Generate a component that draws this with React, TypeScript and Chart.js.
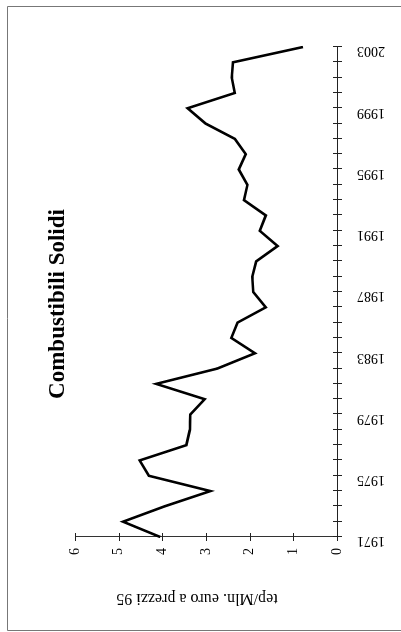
import React, { useEffect, useRef } from 'react';
import { Chart, registerables } from 'chart.js';

Chart.register(...registerables);

const years = [
  '1971', '1972', '1973', '1974', '1975', '1976', '1977', '1978', '1979', '1980', '1981',
  '1982', '1983', '1984', '1985', '1986', '1987', '1988', '1989', '1990', '1991', '1992',
  '1993', '1994', '1995', '1996', '1997', '1998', '1999', '2000', '2001', '2002', '2003',
];
const values = [
  4.05, 4.9, 3.95, 2.9, 4.31, 4.52, 3.45, 3.37, 3.36, 3.03, 4.14,
  2.74, 1.88, 2.42, 2.28, 1.63, 1.92, 1.94, 1.85, 1.36, 1.77, 1.63,
  2.13, 2.05, 2.25, 2.09, 2.34, 3.01, 3.42, 2.34, 2.41, 2.38, 0.78,
];
const valueMin = 0;
const valueMax = 6;
const valueStep = 1;
const yearLabelEvery = 4;
const titleText = 'Combustibili Solidi';
const axisTitle = 'tep/Mln. euro a prezzi 95';

const W = 632;
const H = 401;
const SERIF = '"Liberation Serif", "Times New Roman", serif';

export default function App() {
  const ref = useRef<HTMLCanvasElement>(null);

  useEffect(() => {
    const canvas = ref.current;
    if (!canvas) return;

    const decor = {
      id: 'decor',
      afterDraw(chart: any) {
        const ctx = chart.ctx;
        const xs = chart.scales.x;
        const ys = chart.scales.y;
        const a = chart.chartArea;
        ctx.save();
        ctx.strokeStyle = '#222';
        ctx.lineWidth = 1;
        ctx.beginPath();
        xs.ticks.forEach((_: any, i: number) => {
          const p = Math.round(xs.getPixelForTick(i)) + 0.5;
          ctx.moveTo(p, a.bottom - 4);
          ctx.lineTo(p, a.bottom + 5);
        });
        ys.ticks.forEach((_: any, i: number) => {
          const p = Math.round(ys.getPixelForTick(i)) + 0.5;
          ctx.moveTo(a.left - 4, p);
          ctx.lineTo(a.left + 4, p);
        });
        ctx.stroke();

        // year tick labels (every 4th), vertical text below the axis
        ctx.fillStyle = '#000';
        ctx.font = '14px ' + SERIF;
        ctx.textAlign = 'right';
        ctx.textBaseline = 'middle';
        xs.ticks.forEach((_: any, i: number) => {
          if (i % yearLabelEvery !== 0) return;
          const p = xs.getPixelForTick(i) - 4;
          ctx.save();
          ctx.translate(p, a.bottom + 20);
          ctx.rotate(-Math.PI / 2);
          ctx.fillText(xs.getLabelForValue(i), 0, 0);
          ctx.restore();
        });

        ctx.strokeStyle = '#777';
        ctx.beginPath();
        ctx.moveTo(1.5, H);
        ctx.lineTo(1.5, 7.5);
        ctx.lineTo(625.5, 7.5);
        ctx.lineTo(625.5, H);
        ctx.stroke();

        ctx.fillStyle = '#000';
        ctx.font = 'bold 23px ' + SERIF;
        ctx.textAlign = 'center';
        ctx.textBaseline = 'middle';
        ctx.fillText(titleText, 328, 58);

        ctx.translate(34, 197);
        ctx.rotate(-Math.PI / 2);
        ctx.font = '16px ' + SERIF;
        ctx.fillText(axisTitle, 0, 0);
        ctx.restore();
      },
    };

    const chart = new Chart(canvas, {
      type: 'line',
      data: {
        labels: years,
        datasets: [
          {
            data: values,
            borderColor: '#000',
            borderWidth: 2.6,
            pointRadius: 0,
            tension: 0,
            fill: false,
          },
        ],
      },
      options: {
        responsive: false,
        animation: false,
        devicePixelRatio: 1,
        layout: { padding: { left: 0, right: 47, top: 75, bottom: 0 } },
        plugins: {
          legend: { display: false },
          tooltip: { enabled: false },
          title: { display: false },
        },
        scales: {
          x: {
            type: 'category',
            offset: false,
            grid: { display: false, drawTicks: false },
            border: { display: true, color: '#222', width: 1 },
            ticks: { display: false, autoSkip: false },
            afterFit(scale: any) {
              scale.height = H - 337;
            },
          },
          y: {
            min: valueMin,
            max: valueMax,
            grid: { display: false, drawTicks: false },
            border: { display: true, color: '#333', width: 1 },
            ticks: {
              stepSize: valueStep,
              padding: 11,
              color: '#000',
              font: { family: SERIF, size: 14 },
            },
            afterFit(scale: any) {
              scale.width = 95;
            },
          },
        },
      },
      plugins: [decor],
    } as any);

    return () => chart.destroy();
  }, []);

  return (
    <div
      style={{
        position: 'fixed',
        left: 0,
        top: 0,
        width: W,
        height: H,
        transformOrigin: '0 0',
        transform: `translateY(${W}px) rotate(-90deg)`,
        background: '#fff',
      }}
    >
      <canvas ref={ref} width={W} height={H} style={{ width: W, height: H, display: 'block' }} />
    </div>
  );
}
